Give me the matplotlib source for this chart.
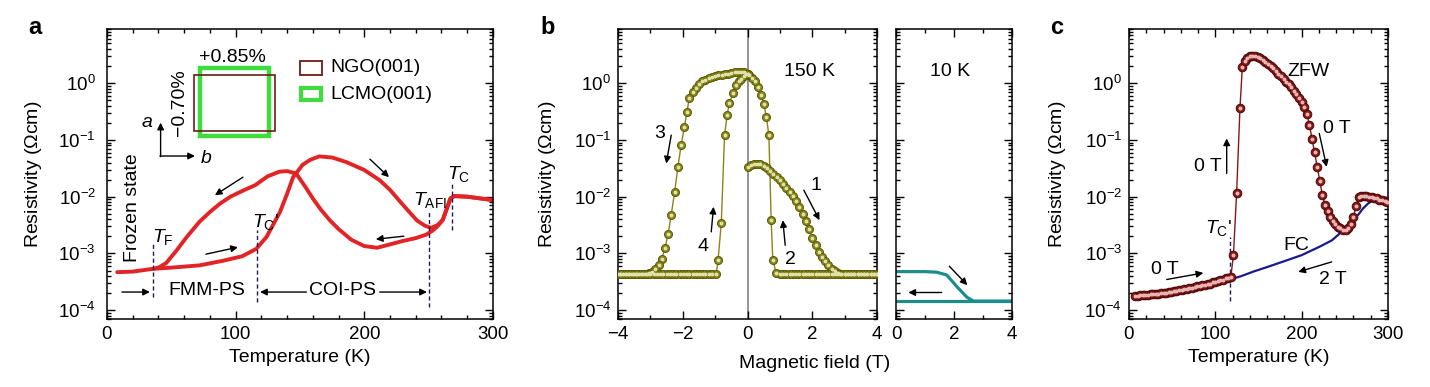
import numpy as np
import matplotlib
matplotlib.use("Agg")
from matplotlib import pyplot as plt
from matplotlib.patches import Rectangle
from matplotlib.ticker import MultipleLocator, LogLocator, NullFormatter

plt.rcParams['font.family'] = ['Liberation Sans', 'DejaVu Sans']
plt.rcParams['mathtext.fontset'] = 'custom'
plt.rcParams['mathtext.rm'] = 'Liberation Sans'
plt.rcParams['mathtext.it'] = 'Liberation Sans:italic'
plt.rcParams['mathtext.bf'] = 'Liberation Sans:bold'

########## panel a : R(T) loop, log10(rho)
a_warm_T = [8, 20, 36, 50, 72, 90, 105, 116, 124, 129, 134.5, 140, 144.8, 147.4, 152, 158, 165, 175, 186,
            200, 212, 220, 228, 235, 241, 247, 252, 257, 261, 264, 267, 270, 280, 290, 300]
a_warm_log = [-3.33, -3.32, -3.27, -3.25, -3.21, -3.13, -3.05, -2.92, -2.71, -2.50, -2.27, -1.95, -1.65, -1.58, -1.44,
              -1.35, -1.29, -1.31, -1.39, -1.53, -1.71, -1.88, -2.09, -2.27, -2.42, -2.51, -2.55, -2.50, -2.41, -2.22,
              -2.03, -1.99, -2.00, -2.03, -2.06]
a_cool_T = [300, 290, 280, 270, 267, 264, 261, 257, 253, 248, 240, 230, 220, 210, 200, 190, 180, 173, 166, 160,
            154, 147, 140, 134, 125, 115, 106, 96, 88, 80, 72, 62, 54, 46, 40, 36]
a_cool_log = [-2.06, -2.03, -2.00, -1.99, -2.03, -2.22, -2.41, -2.52, -2.60, -2.67, -2.73, -2.78, -2.84, -2.90, -2.87,
              -2.76, -2.57, -2.41, -2.22, -2.03, -1.82, -1.59, -1.55, -1.56, -1.64, -1.80, -1.89, -2.00, -2.12, -2.27,
              -2.44, -2.71, -2.95, -3.17, -3.25, -3.27]

########## panel b : R(H) at 150 K, four sweeps
b1_H = [0.0, 0.1, 0.2, 0.3, 0.4, 0.5, 0.6, 0.7, 0.8, 0.9, 1.0, 1.1, 1.2, 1.3, 1.4, 1.5, 1.6, 1.7, 1.8, 1.9, 2.0,
        2.1, 2.2, 2.3, 2.4, 2.5, 2.6, 2.7, 2.8, 2.9, 3.0, 3.1, 3.2, 3.3, 3.4, 3.5, 3.6, 3.7, 3.8, 3.9, 4.0]
b1_log = [-1.47, -1.44, -1.42, -1.42, -1.43, -1.46, -1.50, -1.55, -1.60, -1.66, -1.71, -1.77, -1.84, -1.91, -1.99,
          -2.08, -2.19, -2.30, -2.43, -2.57, -2.72, -2.86, -2.97, -3.06, -3.13, -3.21, -3.27, -3.31, -3.34, -3.36,
          -3.37, -3.37, -3.37, -3.37, -3.37, -3.37, -3.37, -3.37, -3.37, -3.37, -3.37]
b2_H = [4.0, 3.9, 3.8, 3.7, 3.6, 3.5, 3.4, 3.3, 3.2, 3.1, 3.0, 2.9, 2.8, 2.7, 2.6, 2.5, 2.4, 2.3, 2.2, 2.1, 2.0,
        1.9, 1.8, 1.7, 1.6, 1.5, 1.4, 1.3, 1.2, 1.1, 1.0, 0.89, 0.78, 0.73, 0.66, 0.58, 0.50, 0.42, 0.33, 0.24,
        0.15, 0.06, 0.0]
b2_log = [-3.37] * 31 + [-3.35, -3.12, -2.41, -0.92, -0.59, -0.36, -0.21, -0.07, 0.03, 0.09, 0.14, 0.17]
b3_H = [0.0, -0.1, -0.2, -0.3, -0.4, -0.5, -0.6, -0.7, -0.8, -0.9, -1.0, -1.1, -1.2, -1.3, -1.4, -1.5, -1.6, -1.7,
        -1.8, -1.87, -1.95, -2.05, -2.15, -2.25, -2.36, -2.45, -2.55, -2.65, -2.75, -2.85, -2.95, -3.05, -3.15,
        -3.25, -3.35, -3.45, -3.55, -3.65, -3.75, -3.85, -3.95]
b3_log = [0.17, 0.19, 0.20, 0.20, 0.19, 0.18, 0.17, 0.16, 0.15, 0.14, 0.13, 0.11, 0.09, 0.06, 0.03, -0.02, -0.08,
          -0.16, -0.27, -0.50, -0.77, -1.09, -1.47, -1.91, -2.33, -2.65, -2.91, -3.09, -3.20, -3.27, -3.32, -3.35,
          -3.37, -3.37, -3.37, -3.37, -3.37, -3.37, -3.37, -3.37, -3.37]
b4_H = [-4.0, -3.9, -3.8, -3.7, -3.6, -3.5, -3.4, -3.3, -3.2, -3.1, -3.0, -2.9, -2.8, -2.7, -2.6, -2.5, -2.4, -2.3,
        -2.2, -2.1, -2.0, -1.9, -1.8, -1.7, -1.6, -1.5, -1.4, -1.3, -1.2, -1.1, -0.97, -0.91, -0.81, -0.71, -0.63,
        -0.56, -0.45, -0.35, -0.27, -0.19, -0.10, -0.04]
b4_log = [-3.37] * 31 + [-3.12, -2.46, -0.92, -0.56, -0.35, -0.18, -0.04, 0.03, 0.08, 0.13, 0.17]

# 10 K sweep (line)
b10_H = [0, 0.5, 1.0, 1.4, 1.75, 2.09, 2.44, 2.67, 2.9, 4.0]
b10_log = [-3.32, -3.32, -3.32, -3.33, -3.38, -3.58, -3.77, -3.84, -3.84, -3.84]
b10_ret_H = [4.0, 0.0]
b10_ret_log = [-3.84, -3.84]

########## panel c : ZFW (0 T) warming and FC (2 T)
c_zfw_T = [7, 10, 13, 16, 19, 22, 25, 28, 31, 34, 37, 40, 43, 46, 49, 52, 55, 58, 61, 64, 67, 70, 73, 76, 79, 82,
           85, 88, 91, 94, 97, 100, 103, 106, 109, 112, 115, 118, 121, 124.7, 128.6, 131.3, 134, 137, 140, 143, 146,
           149, 152, 155, 158, 161, 164, 167, 170, 173, 176, 179, 182, 185, 188, 191, 194, 197, 200, 203, 206, 209,
           212, 215, 218, 221, 224, 227, 230, 233, 236, 239, 242, 245, 248, 251, 254, 257, 260, 263, 266, 269, 272,
           275, 278, 281, 284, 287, 290, 293, 296, 299]
c_zfw_log = [-3.75, -3.75, -3.74, -3.74, -3.73, -3.73, -3.72, -3.72, -3.71, -3.71, -3.70, -3.70, -3.69, -3.68, -3.68,
             -3.67, -3.66, -3.65, -3.64, -3.63, -3.62, -3.61, -3.60, -3.59, -3.58, -3.57, -3.56, -3.55, -3.54, -3.53,
             -3.51, -3.50, -3.49, -3.47, -3.46, -3.44, -3.43, -3.41, -3.03, -1.93, -0.43, 0.28, 0.39, 0.44, 0.47,
             0.48, 0.48, 0.46, 0.44, 0.41, 0.37, 0.34, 0.30, 0.26, 0.21, 0.16, 0.12, 0.07, 0.02, -0.02, -0.07, -0.13,
             -0.19, -0.26, -0.33, -0.42, -0.54, -0.73, -0.98, -1.22, -1.47, -1.72, -1.97, -2.14, -2.25, -2.35, -2.43,
             -2.49, -2.53, -2.56, -2.58, -2.59, -2.56, -2.48, -2.36, -2.16, -2.00, -1.98, -1.98, -1.99, -2.00, -2.01,
             -2.02, -2.03, -2.05, -2.06, -2.08, -2.09]
c_fc_T = [117, 130, 144, 160, 183, 200, 221, 235, 244, 252, 260, 266, 271, 277, 283, 287]
c_fc_log = [-3.46, -3.40, -3.32, -3.24, -3.12, -3.03, -2.88, -2.77, -2.65, -2.55, -2.41, -2.31, -2.21, -2.12,
            -2.06, -2.03]

red = '#e22426'
olive = '#86861a'
teal = '#1c8c8c'
wine = '#861818'
navy = '#1a1a8c'
dash = '#1c1c5c'
arrow = dict(arrowstyle='-|>', color='k', lw=1.0, mutation_scale=10, shrinkA=0, shrinkB=0)
fs = 14


def style(ax, xmaj, xmin):
    ax.set_yscale('log')
    ax.set_ylim(7e-5, 9)
    ax.yaxis.set_major_locator(LogLocator(base=10, numticks=12))
    ax.yaxis.set_minor_locator(LogLocator(base=10, subs=np.arange(2, 10), numticks=12))
    ax.yaxis.set_minor_formatter(NullFormatter())
    ax.xaxis.set_major_locator(MultipleLocator(xmaj))
    ax.xaxis.set_minor_locator(MultipleLocator(xmin))
    ax.tick_params(which='both', direction='in', top=True, right=True, labelsize=13.5, width=1.0, pad=5)
    ax.tick_params(which='major', length=6)
    ax.tick_params(which='minor', length=3)
    for s in ax.spines.values():
        s.set_linewidth(1.1)


def balls(ax, x, y, face, edge, light, ms):
    ax.plot(x, y, '-', color=face, lw=1.0, zorder=2)
    ax.plot(x, y, 'o', ls='none', mfc=face, mec=edge, mew=0.7, ms=ms, zorder=3)
    ax.plot(x, y, 'o', ls='none', color=light, ms=ms * 0.3, zorder=4)


fig = plt.figure(figsize=(14.3, 3.87), dpi=100)
ax_a = fig.add_axes([0.0748, 0.1757, 0.2699, 0.7494])
ax_b = fig.add_axes([0.4322, 0.1757, 0.1811, 0.7494])
ax_b2 = fig.add_axes([0.6266, 0.1757, 0.0811, 0.7494])
ax_c = fig.add_axes([0.7895, 0.1757, 0.1811, 0.7494])

######## a
style(ax_a, 100, 20)
ax_a.plot(a_warm_T, 10 ** np.array(a_warm_log), color=red, lw=2.8, solid_capstyle='round')
ax_a.plot(a_cool_T, 10 ** np.array(a_cool_log), color=red, lw=2.8, solid_capstyle='round')
ax_a.set_xlim(0, 300)
ax_a.set_xlabel('Temperature (K)', fontsize=fs)
ax_a.set_ylabel(r'Resistivity ($\Omega$cm)', fontsize=fs)
ax_a.yaxis.set_label_coords(-0.162, 0.5)
ax_a.tick_params(axis='y', pad=8)

for T, lo, hi in [(36, -3.77, -2.80), (116.6, -3.85, -2.59), (250.5, -3.94, -2.24), (268, -2.59, -1.76)]:
    ax_a.plot([T, T], [10 ** lo, 10 ** hi], color=dash, lw=1.0, ls=(0, (3, 2)))

ax_a.text(19.8, 10 ** -2.185, 'Frozen state', rotation=90, ha='center', va='center', fontsize=fs)
ax_a.text(34.7, 10 ** -2.795, r'$T_{\mathrm{F}}$', fontsize=fs, va='baseline')
ax_a.text(112.4, 10 ** -2.53, r"$T_{\mathrm{C}}$'", fontsize=fs, va='baseline')
ax_a.text(238, 10 ** -2.15, r'$T_{\mathrm{AFI}}$', fontsize=fs, va='baseline')
ax_a.text(264, 10 ** -1.68, r'$T_{\mathrm{C}}$', fontsize=fs, va='baseline')
ax_a.text(77.7, 10 ** -3.65, 'FMM-PS', fontsize=fs, ha='center', va='center')
ax_a.text(183.4, 10 ** -3.65, 'COI-PS', fontsize=fs, ha='center', va='center')
ax_a.annotate('', xy=(33.4, 10 ** -3.68), xytext=(11.7, 10 ** -3.68), arrowprops=arrow)
ax_a.annotate('', xy=(119, 10 ** -3.68), xytext=(155, 10 ** -3.68), arrowprops=arrow)
ax_a.annotate('', xy=(248.7, 10 ** -3.68), xytext=(212, 10 ** -3.68), arrowprops=arrow)
ax_a.annotate('', xy=(83.9, 10 ** -1.974), xytext=(105.7, 10 ** -1.656), arrowprops=arrow)
ax_a.annotate('', xy=(101.8, 10 ** -2.89), xytext=(76.9, 10 ** -3.013), arrowprops=arrow)
ax_a.annotate('', xy=(219.2, 10 ** -1.656), xytext=(204.4, 10 ** -1.339), arrowprops=arrow)
ax_a.annotate('', xy=(209, 10 ** -2.749), xytext=(230.8, 10 ** -2.696), arrowprops=arrow)

# strain sketch
tr = ax_a.transAxes
ax_a.add_patch(Rectangle((0.241, 0.631), 0.179, 0.236, transform=tr, fill=False, ec='#3edc3e', lw=3.2))
ax_a.add_patch(Rectangle((0.225, 0.648), 0.210, 0.193, transform=tr, fill=False, ec='#6e1a14', lw=1.2))
ax_a.text(0.326, 0.903, '+0.85%', transform=tr, ha='center', va='center', fontsize=fs)
ax_a.text(0.189, 0.745, '\u22120.70%', transform=tr, ha='center', va='center', rotation=90, fontsize=fs)
ax_a.annotate('', xy=(0.139, 0.677), xytext=(0.139, 0.560), xycoords=tr, textcoords=tr, arrowprops=arrow)
ax_a.annotate('', xy=(0.228, 0.562), xytext=(0.137, 0.562), xycoords=tr, textcoords=tr, arrowprops=arrow)
ax_a.text(0.104, 0.676, 'a', style='italic', transform=tr, ha='center', va='center', fontsize=fs)
ax_a.text(0.243, 0.555, 'b', style='italic', transform=tr, ha='left', va='center', fontsize=fs)
ax_a.add_patch(Rectangle((0.500, 0.841), 0.057, 0.049, transform=tr, fill=False, ec='#6e1a14', lw=1.3))
ax_a.add_patch(Rectangle((0.502, 0.754), 0.053, 0.041, transform=tr, fill=False, ec='#3edc3e', lw=3.0))
ax_a.text(0.578, 0.866, 'NGO(001)', transform=tr, va='center', fontsize=fs)
ax_a.text(0.578, 0.773, 'LCMO(001)', transform=tr, va='center', fontsize=fs)

######## b
style(ax_b, 2, 1)
ax_b.axvline(0, color='#808080', lw=1.2, zorder=1)
for H, lg in [(b1_H, b1_log), (b2_H, b2_log), (b3_H, b3_log), (b4_H, b4_log)]:
    balls(ax_b, H, 10 ** np.array(lg), olive, '#5c5c08', '#e2e2a8', 5.8)
ax_b.set_xlim(-4, 4)
ax_b.set_ylabel(r'Resistivity ($\Omega$cm)', fontsize=fs)
ax_b.yaxis.set_label_coords(-0.232, 0.5)
ax_b.text(1.915, 10 ** 0.199, '150 K', ha='center', va='center', fontsize=fs)
ax_b.text(-2.72, 10 ** -0.881, '3', ha='center', va='center', fontsize=fs)
ax_b.annotate('', xy=(-2.511, 10 ** -1.415), xytext=(-2.357, 10 ** -0.916), arrowprops=arrow)
ax_b.text(-1.381, 10 ** -2.885, '4', ha='center', va='center', fontsize=fs)
ax_b.annotate('', xy=(-1.05, 10 ** -2.178), xytext=(-1.121, 10 ** -2.62), arrowprops=arrow)
ax_b.text(2.10, 10 ** -1.797, '1', ha='center', va='center', fontsize=fs)
ax_b.annotate('', xy=(2.224, 10 ** -2.414), xytext=(1.739, 10 ** -1.885), arrowprops=arrow)
ax_b.text(1.319, 10 ** -3.107, '2', ha='center', va='center', fontsize=fs)
ax_b.annotate('', xy=(1.09, 10 ** -2.414), xytext=(1.164, 10 ** -2.855), arrowprops=arrow)

style(ax_b2, 2, 1)
ax_b2.plot(b10_H, 10 ** np.array(b10_log), color=teal, lw=2.3)
ax_b2.plot(b10_ret_H, 10 ** np.array(b10_ret_log), color=teal, lw=2.3)
ax_b2.set_xlim(0, 4)
ax_b2.tick_params(axis='y', labelleft=False)
ax_b2.text(1.86, 10 ** 0.199, '10 K', ha='center', va='center', fontsize=fs)
ax_b2.annotate('', xy=(2.459, 10 ** -3.559), xytext=(1.838, 10 ** -3.225), arrowprops=arrow)
ax_b2.annotate('', xy=(0.424, 10 ** -3.688), xytext=(1.576, 10 ** -3.688), arrowprops=arrow)
fig.text(815 / 1430, 1 - 363 / 387, 'Magnetic field (T)', ha='center', va='center', fontsize=fs)

######## c
style(ax_c, 100, 20)
ax_c.plot(c_fc_T, 10 ** np.array(c_fc_log), color=navy, lw=1.6, zorder=2)
balls(ax_c, c_zfw_T, 10 ** np.array(c_zfw_log), wine, '#4e0808', '#eab4b4', 6.2)
ax_c.plot([117, 117], [10 ** -3.836, 10 ** -2.708], color=dash, lw=1.0, ls=(0, (3, 2)), zorder=1)
ax_c.set_xlim(0, 300)
ax_c.set_xlabel('Temperature (K)', fontsize=fs)
ax_c.set_ylabel(r'Resistivity ($\Omega$cm)', fontsize=fs)
ax_c.yaxis.set_label_coords(-0.237, 0.5)
ax_c.text(103.4, 10 ** -2.56, r"$T_{\mathrm{C}}$'", ha='center', va='center', fontsize=fs)
ax_c.text(207.7, 10 ** 0.199, 'ZFW', ha='center', va='center', fontsize=fs)
ax_c.text(240.6, 10 ** -0.798, '0 T', ha='center', va='center', fontsize=fs)
ax_c.annotate('', xy=(229, 10 ** -1.475), xytext=(220.4, 10 ** -0.886), arrowprops=arrow)
ax_c.text(91.9, 10 ** -1.463, '0 T', ha='center', va='center', fontsize=fs)
ax_c.annotate('', xy=(113.2, 10 ** -0.974), xytext=(113.2, 10 ** -1.591), arrowprops=arrow)
ax_c.text(41.7, 10 ** -3.283, '0 T', ha='center', va='center', fontsize=fs)
ax_c.annotate('', xy=(86.1, 10 ** -3.343), xytext=(43.7, 10 ** -3.459), arrowprops=arrow)
ax_c.text(194.3, 10 ** -2.855, 'FC', ha='center', va='center', fontsize=fs)
ax_c.text(236.6, 10 ** -3.459, '2 T', ha='center', va='center', fontsize=fs)
ax_c.annotate('', xy=(196.1, 10 ** -3.325), xytext=(234.8, 10 ** -3.149), arrowprops=arrow)

for x, lab in [(35 / 1430, 'a'), (548 / 1430, 'b'), (1057 / 1430, 'c')]:
    fig.text(x, 1 - 28 / 387, lab, fontsize=17, fontweight='bold', ha='center', va='center')

fig.savefig('out.png', dpi=100)
